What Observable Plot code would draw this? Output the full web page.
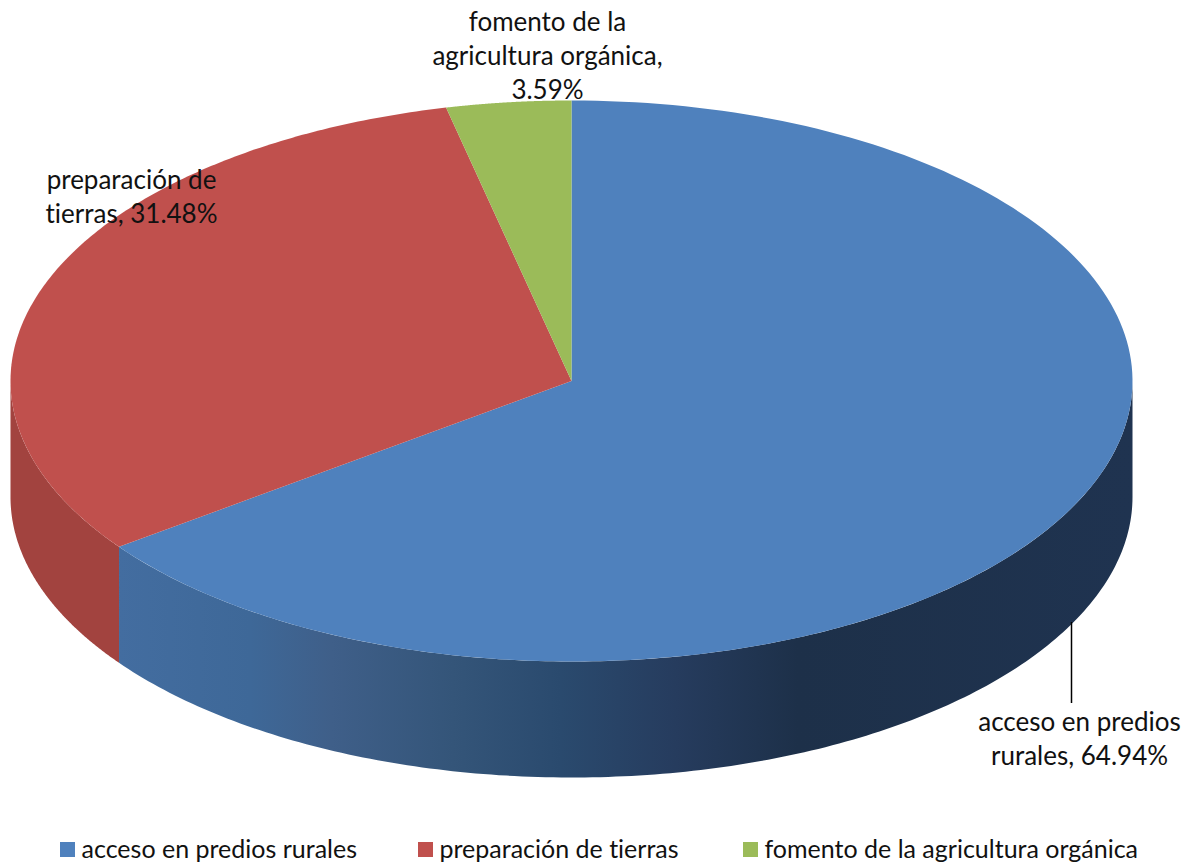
<!DOCTYPE html>
<html><head><meta charset="utf-8">
<script src="https://cdn.jsdelivr.net/npm/d3@7"></script>
<script src="https://cdn.jsdelivr.net/npm/@observablehq/plot@0.6"></script>
<style>html,body{margin:0;padding:0;background:#fff}svg{display:block}</style>
</head><body>
<script>
const categories = ["acceso en predios rurales", "preparación de tierras", "fomento de la agricultura orgánica"];
const values = [64.94, 31.48, 3.59];
const colors = ["#4f81bd", "#c0504d", "#9bbb59"];
const sideColors = ["url(#blueSide)", "#a2433f", "#7f9a48"];
const labelLines = ["acceso en predios\nrurales, 64.94%", "preparación de\ntierras, 31.48%", "fomento de la\nagricultura orgánica,\n3.59%"];
const labelX = [1079, 131, 547];
const labelY = [706, 164, 6];
const legendX = [60, 418, 743];

const cx = 571, cy = 380.5, rx = 561, ry = 280.5, depth = 116;
const total = d3.sum(values);
const pt = (deg, dy = 0) => ({x: cx + rx * Math.sin(deg * Math.PI / 180), y: cy - ry * Math.cos(deg * Math.PI / 180) + dy});
const arc = (a0, a1, dy = 0) => d3.range(0, 181).map(i => pt(a0 + (a1 - a0) * i / 180, dy));

let acc = 0;
const slices = values.map((v, i) => { const a0 = acc; acc += v / total * 360; return {i, a0, a1: acc}; });

const marks = [];
marks.push(() => {
  const ns = "http://www.w3.org/2000/svg";
  const defs = document.createElementNS(ns, "defs");
  const g = document.createElementNS(ns, "linearGradient");
  g.setAttribute("id", "blueSide");
  g.setAttribute("gradientUnits", "userSpaceOnUse");
  g.setAttribute("x1", 118); g.setAttribute("x2", 1132); g.setAttribute("y1", 0); g.setAttribute("y2", 0);
  [[0, "#436da0"], [0.13, "#3e6898"], [0.21, "#3f5f89"], [0.33, "#345579"], [0.436, "#2a4a6e"], [0.55, "#263c5e"], [0.67, "#1d3049"], [1, "#1f3350"]].forEach(([o, c]) => {
    const s = document.createElementNS(ns, "stop");
    s.setAttribute("offset", o); s.setAttribute("stop-color", c); g.appendChild(s);
  });
  defs.appendChild(g);
  return defs;
});

// Visible side walls: the front half of the rim, from 90° to 270° clockwise from the top
slices.forEach(s => {
  const a0 = Math.max(s.a0, 90), a1 = Math.min(s.a1, 270);
  if (a1 > a0) {
    const poly = [...arc(a0, a1), ...arc(a1, a0, depth)];
    marks.push(Plot.line(poly, {x: "x", y: "y", fill: sideColors[s.i], stroke: "none"}));
  }
});
// Top faces
slices.forEach(s => {
  const poly = [{x: cx, y: cy}, ...arc(s.a0, s.a1)];
  marks.push(Plot.line(poly, {x: "x", y: "y", fill: colors[s.i], stroke: "none"}));
});
// Leader line
marks.push(Plot.ruleX([1071], {y1: 622, y2: 703, stroke: "#000", strokeWidth: 1.5}));
// Data labels
const font = {fontFamily: "Lato", fontSize: 26, fill: "#111", lineAnchor: "top", lineHeight: 1.31};
labelLines.forEach((t, i) => {
  marks.push(Plot.text([t], {...font, x: () => labelX[i], y: () => labelY[i], text: d => d, textAnchor: "middle"}));
});
// Legend
categories.forEach((c, i) => {
  marks.push(Plot.rect([c], {x1: () => legendX[i], x2: () => legendX[i] + 15, y1: () => 842, y2: () => 857, fill: colors[i]}));
  marks.push(Plot.text([c], {x: () => legendX[i] + 21, y: () => 849, text: d => d, textAnchor: "start", fontFamily: "Lato", fontSize: 25, fill: "#111"}));
});

const chart = Plot.plot({
  width: 1190, height: 866, margin: 0,
  x: {type: "identity", axis: null}, y: {type: "identity", axis: null},
  style: {background: "#fff", overflow: "hidden", fontVariantLigatures: "none"},
  marks
});
document.body.appendChild(chart);
</script>
</body></html>
